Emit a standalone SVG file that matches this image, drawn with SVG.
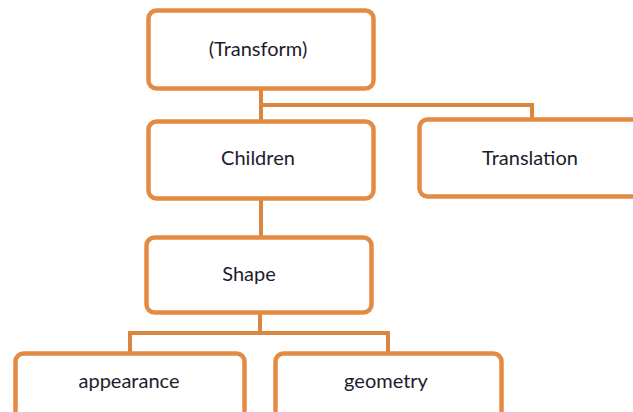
<svg xmlns="http://www.w3.org/2000/svg" width="633" height="412" viewBox="0 0 633 412">
<style>
.box{fill:#fff;stroke:#E38B43;stroke-width:4.5}
.ln{fill:none;stroke:#DA8540;stroke-width:4}
text{font-family:Lato,"Open Sans","Liberation Sans",sans-serif;font-size:20px;fill:#1c1c2c;text-anchor:middle}
</style>
<rect width="633" height="412" fill="#fff"/>
<g id="connectors">
<path class="ln" d="M261 90 V120 M261 105 H532 V118"/>
<path class="ln" d="M261 199 V237"/>
<path class="ln" d="M260 313 V333 M130 352 V333 H388 V352"/>
</g>
<g id="transform"><rect class="box" x="148.5" y="10.5" width="225" height="78" rx="8"/><text x="258" y="56">(Transform)</text></g>
<g id="children"><rect class="box" x="148.5" y="121.5" width="225" height="77" rx="8"/><text x="258" y="165">Children</text></g>
<g id="translation"><rect class="box" x="419.5" y="119.5" width="222" height="77" rx="8"/><text x="530" y="165">Translation</text></g>
<g id="shape"><rect class="box" x="146.5" y="237.5" width="225" height="75" rx="8"/><text x="249" y="281">Shape</text></g>
<g id="appearance"><rect class="box" x="15.5" y="353.5" width="229" height="70" rx="8"/><text x="129" y="388">appearance</text></g>
<g id="geometry"><rect class="box" x="275.5" y="353.5" width="226" height="70" rx="8"/><text x="386" y="388">geometry</text></g>
</svg>
